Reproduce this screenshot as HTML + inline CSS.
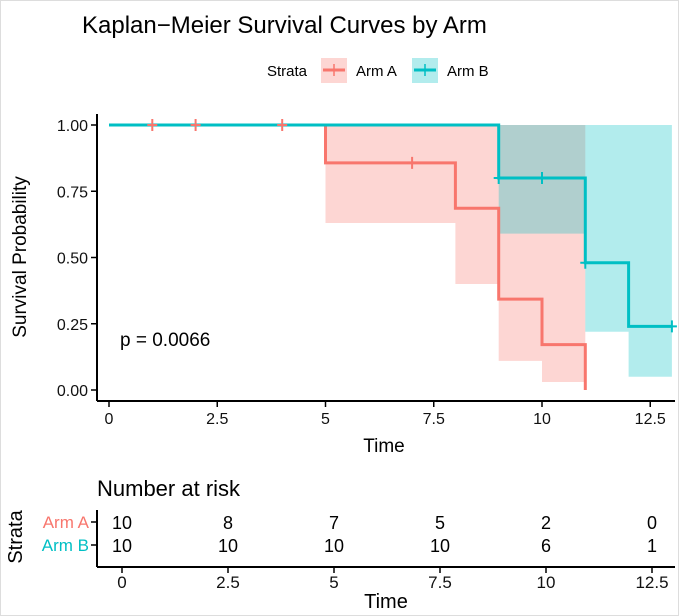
<!DOCTYPE html>
<html><head><meta charset="utf-8"><style>
body{margin:0;background:#fff;}
svg{display:block;font-family:"Liberation Sans",sans-serif;}
</style></head><body>
<svg id="chart" width="679" height="616">
<rect x="0" y="0" width="679" height="616" fill="#fff" stroke="#ddd" stroke-width="2"/>
<text x="82" y="33" font-size="24" fill="#000">Kaplan−Meier Survival Curves by Arm</text>
<g>
<text x="267" y="76" font-size="15">Strata</text>
<g>
<rect x="321" y="58" width="26" height="25" fill="#F8766D" fill-opacity="0.3"/>
<line x1="323" y1="70" x2="345" y2="70" stroke="#F8766D" stroke-width="3"/>
<line x1="334" y1="64" x2="334" y2="76" stroke="#F8766D" stroke-width="1.5"/>
<text x="356" y="76" font-size="15">Arm A</text></g>
<g>
<rect x="412" y="58" width="26" height="25" fill="#00BFC4" fill-opacity="0.3"/>
<line x1="414" y1="70" x2="436" y2="70" stroke="#00BFC4" stroke-width="3"/>
<line x1="425" y1="64" x2="425" y2="76" stroke="#00BFC4" stroke-width="1.5"/>
<text x="447" y="76" font-size="15">Arm B</text></g>
</g>
<g id="plot"></g>
<g id="risk"></g>
</svg>
<script>
// Arm A
const aTimes=[0,5,8,9,10,11];
const aSurv=[1,0.857,0.686,0.343,0.171,0];
const aLower=[1,0.63,0.40,0.11,0.03,0];
const aUpper=[1,1,1,1,1,0];
const aCensT=[1,2,4,7];
const aCensS=[1,1,1,0.857];
// Arm B
const bTimes=[0,9,11,12,13];
const bSurv=[1,0.8,0.48,0.24,0.24];
const bLower=[1,0.59,0.22,0.05,0.05];
const bUpper=[1,1,1,1,1];
const bCensT=[9,10,11,13];
const bCensS=[0.8,0.8,0.48,0.24];
const aEnd=11,bEnd=13;
const xTicks=[0,2.5,5,7.5,10,12.5];
const xTickLabels=["0","2.5","5","7.5","10","12.5"];
const yTicks=[0,0.25,0.5,0.75,1];
const yTickLabels=["0.00","0.25","0.50","0.75","1.00"];
const riskTimes=[0,2.5,5,7.5,10,12.5];
const riskA=[10,8,7,5,2,0];
const riskB=[10,10,10,10,6,1];
const pLabel="p = 0.0066";

const NS="http://www.w3.org/2000/svg";
const X=t=>109+t*43.3, Y=s=>390-s*265;
const RX=t=>122+t*42.4;
function mk(tag,attrs,parent,txt){const e=document.createElementNS(NS,tag);for(const k in attrs)e.setAttribute(k,attrs[k]);if(txt!==undefined)e.textContent=txt;parent.appendChild(e);return e;}
const plot=document.getElementById('plot'),risk=document.getElementById('risk');
function band(times,lo,up,end,col,name){
  let top="",bot="";
  for(let i=0;i<times.length;i++){const t0=times[i],t1=i+1<times.length?times[i+1]:end;if(t1<=t0)continue;
    top+=`${X(t0)},${Y(up[i])} ${X(t1)},${Y(up[i])} `;bot=`${X(t1)},${Y(lo[i])} ${X(t0)},${Y(lo[i])} `+bot;}
  const p=mk('polygon',{points:top+bot,fill:col,'fill-opacity':0.3},plot);
  
  
}
function curve(times,s,end,col,name){
  let d=`M${X(times[0])},${Y(s[0])}`;
  for(let i=1;i<times.length;i++){d+=` H${X(times[i])} V${Y(s[i])}`;}
  d+=` H${X(end)}`;
  const p=mk('path',{d:d,fill:'none',stroke:col,'stroke-width':3},plot);
  
  
}
function cens(ts,ss,col,name){ts.forEach((t,i)=>{const g=mk('path',{d:`M${X(t)-5},${Y(ss[i])}H${X(t)+5}M${X(t)},${Y(ss[i])-6}V${Y(ss[i])+6}`,stroke:col,'stroke-width':2},plot);
  
  });}
band(aTimes.slice(0,-1),aLower,aUpper,aEnd,'#F8766D','ci-band-arm-a');
band(bTimes.slice(0,-1),bLower,bUpper,bEnd,'#00BFC4','ci-band-arm-b');
curve(aTimes,aSurv,aEnd,'#F8766D','curve-arm-a');
curve(bTimes,bSurv,bEnd,'#00BFC4','curve-arm-b');
cens(aCensT,aCensS,'#F8766D','censor-mark-arm-a');
cens(bCensT,bCensS,'#00BFC4','censor-mark-arm-b');
// axes
let e=mk('line',{x1:97,y1:114,x2:97,y2:401,stroke:'#000','stroke-width':2},plot);

e=mk('line',{x1:97,y1:401,x2:675,y2:401,stroke:'#000','stroke-width':2},plot);

yTicks.forEach((v,i)=>{mk('line',{x1:91,x2:97,y1:Y(v),y2:Y(v),stroke:'#000','stroke-width':1.5},plot);
  const t=mk('text',{x:88,y:Y(v)+6,'font-size':16,'text-anchor':'end',fill:'#111'},plot,yTickLabels[i]);
  });
xTicks.forEach((v,i)=>{mk('line',{x1:X(v),x2:X(v),y1:401,y2:407,stroke:'#000','stroke-width':1.5},plot);
  const t=mk('text',{x:X(v),y:424,'font-size':16,'text-anchor':'middle',fill:'#111'},plot,xTickLabels[i]);
  });
e=mk('text',{x:384,y:452,'font-size':19,'text-anchor':'middle'},plot,'Time');

e=mk('text',{x:0,y:0,'font-size':19,'text-anchor':'middle',transform:'translate(26,257) rotate(-90)'},plot,'Survival Probability');

e=mk('text',{x:120,y:346,'font-size':19},plot,pLabel);

// risk table
e=mk('text',{x:97,y:496,'font-size':22},risk,'Number at risk');

mk('line',{x1:97,y1:510,x2:97,y2:567,stroke:'#000','stroke-width':2},risk);
mk('line',{x1:97,y1:567,x2:675,y2:567,stroke:'#000','stroke-width':2},risk);
[[522,'Arm A','#F8766D',riskA],[545,'Arm B','#00BFC4',riskB]].forEach(([y,lab,col,arr])=>{
  mk('line',{x1:91,x2:97,y1:y,y2:y,stroke:'#000','stroke-width':1.5},risk);
  const l=mk('text',{x:89,y:y+6,'font-size':17,'text-anchor':'end',fill:col},risk,lab);
  
  arr.forEach((n,i)=>{const t=mk('text',{x:RX(riskTimes[i]),y:y+7,'font-size':18,'text-anchor':'middle'},risk,String(n));
    });
});
xTicks.forEach((v,i)=>{mk('line',{x1:RX(v),x2:RX(v),y1:567,y2:573,stroke:'#000','stroke-width':1.5},risk);
  const t=mk('text',{x:RX(v),y:588,'font-size':17,'text-anchor':'middle',fill:'#111'},risk,xTickLabels[i]);
  });
e=mk('text',{x:386,y:608,'font-size':20,'text-anchor':'middle'},risk,'Time');

e=mk('text',{x:0,y:0,'font-size':20,'text-anchor':'middle',transform:'translate(22,537) rotate(-90)'},risk,'Strata');

</script>
</body></html>
